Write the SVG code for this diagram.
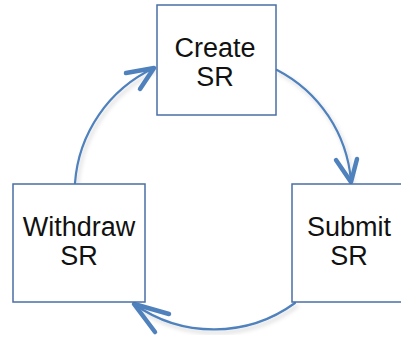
<svg xmlns="http://www.w3.org/2000/svg" width="401" height="337" viewBox="0 0 401 337">
  <style>
    .box { fill: #ffffff; stroke: #4a6fa5; stroke-width: 1.5; }
    .label { font-family: "Liberation Sans", Arial, sans-serif; font-size: 27px; fill: #111111; text-anchor: middle; }
    .arc { fill: none; stroke: #4f81bd; stroke-width: 2.2; stroke-linecap: round; filter: url(#soft); }
    .head { fill: none; stroke: #4f81bd; stroke-width: 4.5; stroke-linecap: round; stroke-linejoin: round; }
  </style>
  <defs>
    <filter id="soft" x="-20%" y="-20%" width="140%" height="140%">
      <feDropShadow dx="2" dy="3" stdDeviation="2" flood-color="#000000" flood-opacity="0.18"/>
    </filter>
  </defs>
  <rect width="401" height="337" fill="#ffffff"/>

  <g id="connectors">
    <!-- Withdraw SR -> Create SR -->
    <path class="arc" d="M75,183 A138,138 0 0 1 154,68"/>
    <polyline class="head" points="126,73 154,68 140,89"/>
    <!-- Create SR -> Submit SR -->
    <path class="arc" d="M277,70 A138,138 0 0 1 351,181"/>
    <polyline class="head" points="336,160 351,182 357,159"/>
    <!-- Submit SR -> Withdraw SR -->
    <path class="arc" d="M295,303 A138,138 0 0 1 134,304"/>
    <polyline class="head" points="169,314 134,304 155,332"/>
  </g>

  <g id="create">
    <rect class="box" x="157" y="5" width="119" height="110"/>
    <text class="label" x="215" y="57">Create</text>
    <text class="label" x="215" y="86">SR</text>
  </g>

  <g id="submit">
    <rect class="box" x="292" y="184" width="120" height="118"/>
    <text class="label" x="349" y="236">Submit</text>
    <text class="label" x="349" y="265">SR</text>
  </g>

  <g id="withdraw">
    <rect class="box" x="13" y="184" width="132" height="118"/>
    <text class="label" x="79" y="236">Withdraw</text>
    <text class="label" x="79" y="265">SR</text>
  </g>
</svg>
